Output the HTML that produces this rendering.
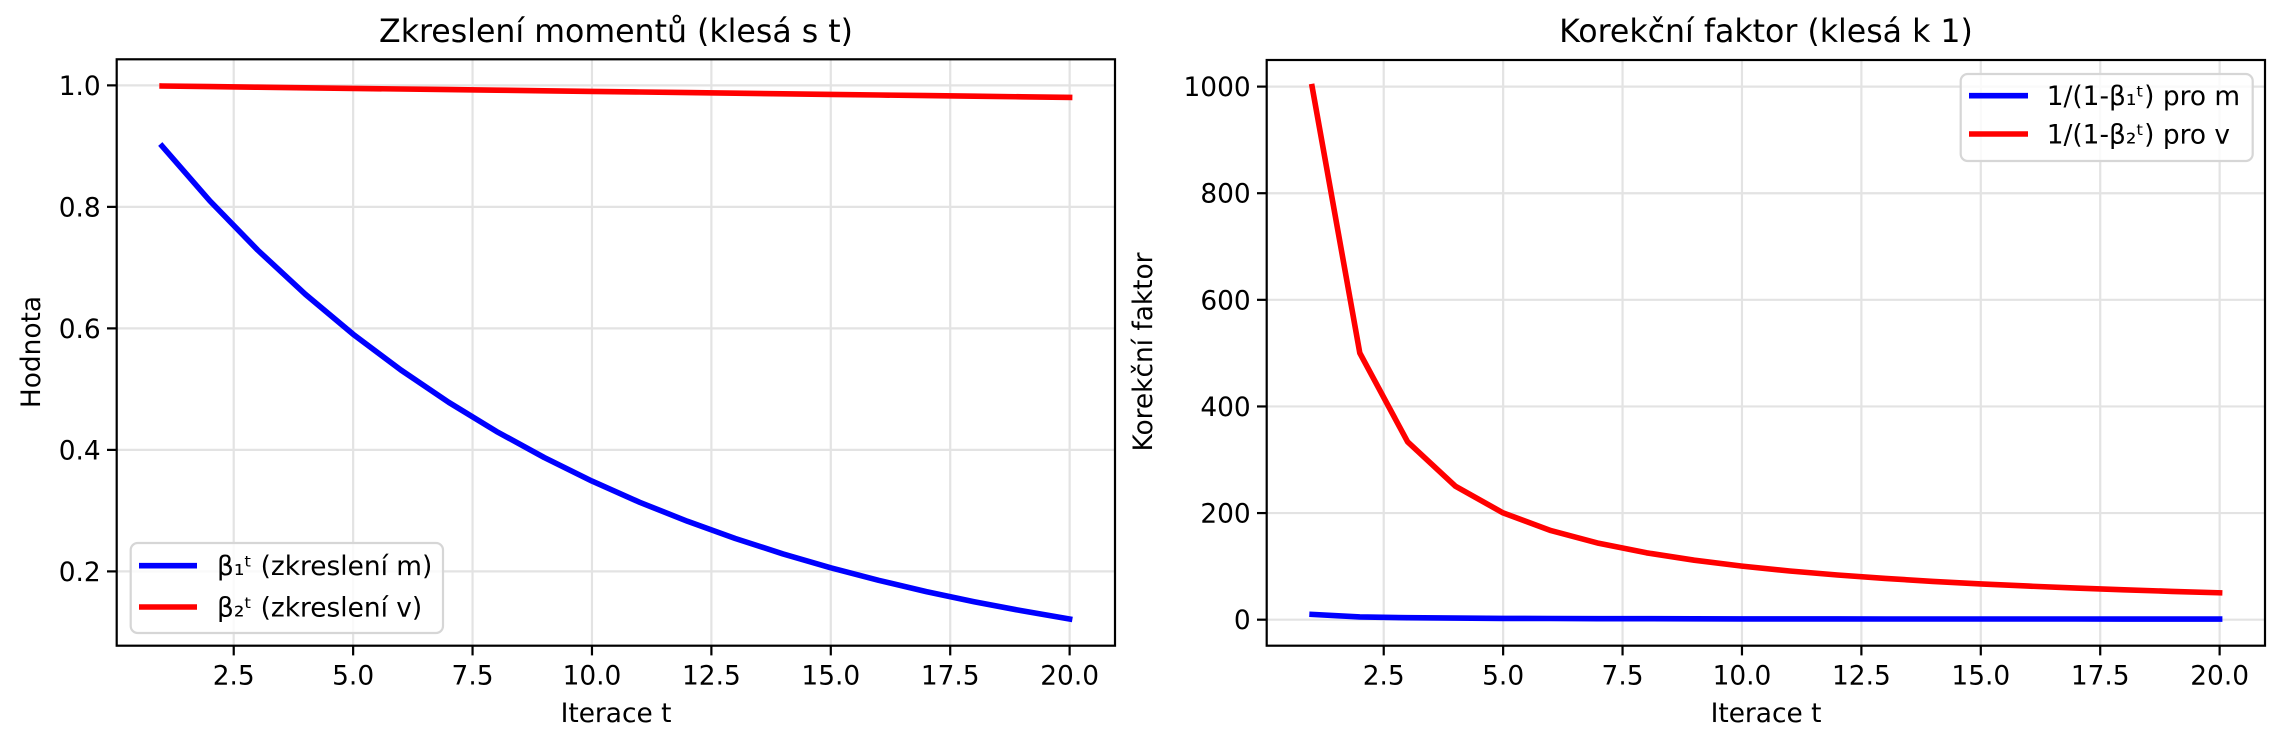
<!DOCTYPE html>
<html><head><meta charset="utf-8"><style>
html,body{margin:0;padding:0;background:#fff;}
svg{display:block;font-family:"DejaVu Sans","Liberation Sans",sans-serif;}
</style></head><body>
<svg id="s" width="2284" height="747" viewBox="0 0 2284 747" xmlns="http://www.w3.org/2000/svg">
<rect width="2284" height="747" fill="#fff"/>
<g id="grid" stroke="#e3e3e3" stroke-width="2.2"></g>
<g id="lines" fill="none" stroke-width="5.6" stroke-linejoin="round" stroke-linecap="square"></g>
<g id="ticks" stroke="#000" stroke-width="2.2"></g>
<g font-size="26.4" fill="#000" id="tl"></g>
<rect x="116.7" y="59.3" width="998.3" height="586.4" fill="none" stroke="#000" stroke-width="2.2"/>
<rect x="1266.7" y="60" width="998.3" height="585.7" fill="none" stroke="#000" stroke-width="2.2"/>
<text x="616" y="42" font-size="31.6" text-anchor="middle">Zkreslení momentů (klesá s t)</text>
<text x="1766" y="42" font-size="31.6" text-anchor="middle">Korekční faktor (klesá k 1)</text>
<text x="616" y="722" font-size="26.4" text-anchor="middle">Iterace t</text>
<text x="1766" y="722" font-size="26.4" text-anchor="middle">Iterace t</text>
<text transform="translate(40,352) rotate(-90)" font-size="26.4" text-anchor="middle">Hodnota</text>
<text transform="translate(1152,352) rotate(-90)" font-size="26.4" text-anchor="middle">Korekční faktor</text>
<rect x="130.7" y="543" width="312.3" height="90" rx="7" fill="#fff" fill-opacity="0.8" stroke="#d6d6d6" stroke-width="2.2"/>
<line x1="139" y1="565.7" x2="197" y2="565.7" stroke="#00f" stroke-width="5.6"/>
<line x1="139" y1="607" x2="197" y2="607" stroke="#f00" stroke-width="5.6"/>
<text x="217" y="575" font-size="26.4">β₁ᵗ (zkreslení m)</text>
<text x="217" y="616.5" font-size="26.4">β₂ᵗ (zkreslení v)</text>
<rect x="1960.7" y="74" width="292" height="87" rx="7" fill="#fff" fill-opacity="0.8" stroke="#d6d6d6" stroke-width="2.2"/>
<line x1="1969" y1="95.7" x2="2028" y2="95.7" stroke="#00f" stroke-width="5.6"/>
<line x1="1969" y1="134" x2="2028" y2="134" stroke="#f00" stroke-width="5.6"/>
<text x="2046.7" y="105" font-size="26.4">1/(1-β₁ᵗ) pro m</text>
<text x="2046.7" y="143.5" font-size="26.4">1/(1-β₂ᵗ) pro v</text>
</svg>
<script>
(function(){
var NS="http://www.w3.org/2000/svg";
function el(p,t,a){var e=document.createElementNS(NS,t);for(var k in a)e.setAttribute(k,a[k]);document.getElementById(p).appendChild(e);return e;}
var L={x0:116.7,x1:1115,y0:59.3,y1:645.7,ymin:0.0777,ymax:1.0429};
var R={x0:1266.7,x1:2265,y0:60,y1:645.7,ymin:-48.8,ymax:1049.9};
function X(a,t){return a.x0+(t-0.05)/20.9*(a.x1-a.x0);}
function Y(a,v){return a.y1-(v-a.ymin)/(a.ymax-a.ymin)*(a.y1-a.y0);}
function ax(a,yt,fmt){
 [2.5,5,7.5,10,12.5,15,17.5,20].forEach(function(t){var x=X(a,t);
  el("grid","line",{x1:x,x2:x,y1:a.y0,y2:a.y1});
  el("ticks","line",{x1:x,x2:x,y1:a.y1,y2:a.y1+9.7});
  var tx=el("tl","text",{x:x,y:a.y1+39,"text-anchor":"middle"});tx.textContent=t.toFixed(1);});
 yt.forEach(function(v){var y=Y(a,v);
  el("grid","line",{x1:a.x0,x2:a.x1,y1:y,y2:y});
  el("ticks","line",{x1:a.x0-9.7,x2:a.x0,y1:y,y2:y});
  var tx=el("tl","text",{x:a.x0-16,y:y+9.5,"text-anchor":"end"});tx.textContent=fmt(v);});
}
ax(L,[0.2,0.4,0.6,0.8,1.0],function(v){return v.toFixed(1);});
ax(R,[0,200,400,600,800,1000],function(v){return ""+v;});
function line(a,f,c){var p=[];for(var t=1;t<=20;t++)p.push(X(a,t).toFixed(1)+","+Y(a,f(t)).toFixed(1));
 el("lines","polyline",{points:p.join(" "),stroke:c});}
line(L,function(t){return Math.pow(0.9,t);},"#00f");
line(L,function(t){return Math.pow(0.999,t);},"#f00");
line(R,function(t){return 1/(1-Math.pow(0.9,t));},"#00f");
line(R,function(t){return 1/(1-Math.pow(0.999,t));},"#f00");
})();
</script>
</body></html>
